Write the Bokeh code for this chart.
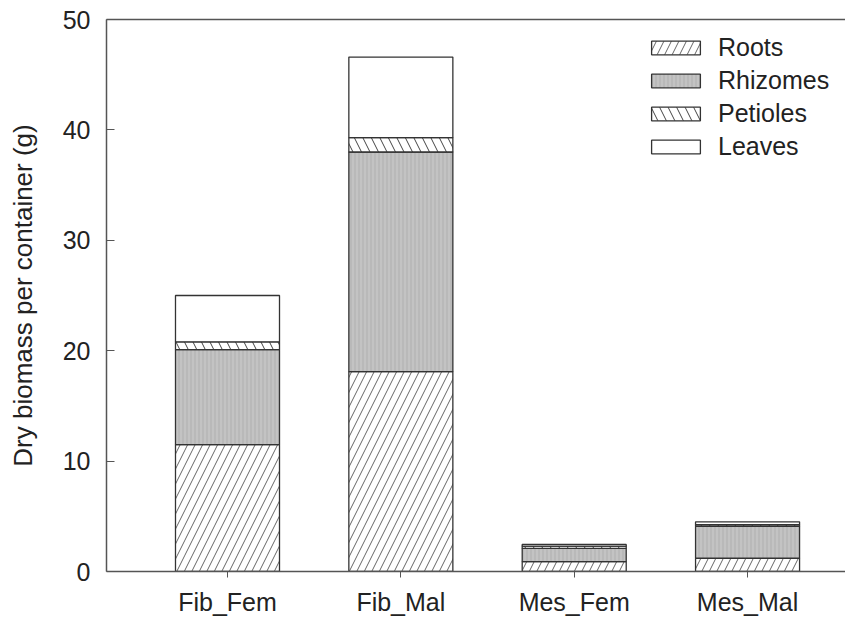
from bokeh.plotting import figure
from bokeh.models import LinearAxis, FixedTicker, Range1d, Legend, LegendItem, ColumnDataSource
from bokeh.embed import file_html
from bokeh.resources import INLINE

groups = ["Fib_Fem", "Fib_Mal", "Mes_Fem", "Mes_Mal"]
roots = [11.5, 18.1, 0.9, 1.2]
rhizomes = [8.6, 19.9, 1.2, 2.9]
petioles = [0.7, 1.3, 0.2, 0.15]
leaves = [4.2, 7.3, 0.15, 0.25]
y_ticks = [0, 10, 20, 30, 40, 50]
parts = ["Roots", "Rhizomes", "Petioles", "Leaves"]

FONT = "Liberation Sans"
AX = "#555555"
TXT = "#222222"

pos = list(range(len(groups)))
src = ColumnDataSource(dict(x=pos, Roots=roots, Rhizomes=rhizomes, Petioles=petioles, Leaves=leaves))

p = figure(width=845, height=619, output_backend="svg", toolbar_location=None,
           x_range=Range1d(-0.698, 3.565), y_range=Range1d(0, 50),
           min_border_left=106, min_border_top=19, min_border_right=0, min_border_bottom=48)
p.outline_line_color = None
p.xgrid.visible = False
p.ygrid.visible = False
p.background_fill_color = "white"
p.border_fill_color = "white"

renderers = p.vbar_stack(parts, x="x", width=0.6, source=src,
                         fill_color=["white", "#c3c3c3", "white", "white"],
                         hatch_pattern=["/", "|", "\\", " "],
                         hatch_color=["#555555", "#a5a5a5", "#444444", "#444444"],
                         hatch_scale=[15, 4, 17, 12],
                         hatch_weight=[0.9, 0.7, 1.0, 1.0],
                         line_color="#333333", line_width=1.3)

legend = Legend(items=[LegendItem(label=n, renderers=[r]) for n, r in zip(parts, renderers)],
                location=(539, 410), orientation="vertical",
                glyph_width=61, glyph_height=17, label_standoff=12, spacing=4,
                padding=0, margin=0, border_line_color=None, background_fill_alpha=0,
                label_text_font=FONT, label_text_font_size="25px", label_text_color=TXT)
p.add_layout(legend, "center")

# x axis
xa = p.xaxis[0]
xa.ticker = FixedTicker(ticks=pos)
xa.major_label_overrides = {i: g for i, g in zip(pos, groups)}
xa.minor_tick_line_color = None
xa.major_tick_in = 0
xa.major_tick_out = 6
xa.axis_line_color = AX
xa.axis_line_width = 1.5
xa.major_tick_line_color = AX
xa.major_label_text_font = FONT
xa.major_label_text_font_size = "25px"
xa.major_label_text_color = TXT
xa.major_label_standoff = 10

# y axis
ya = p.yaxis[0]
ya.ticker = FixedTicker(ticks=y_ticks)
ya.minor_tick_line_color = None
ya.major_tick_in = 8
ya.major_tick_out = 0
ya.axis_line_color = AX
ya.axis_line_width = 1.5
ya.major_tick_line_color = AX
ya.major_label_text_font = FONT
ya.major_label_text_font_size = "25px"
ya.major_label_text_color = TXT
ya.major_label_standoff = 16
ya.axis_label = "Dry biomass per container (g)"
ya.axis_label_text_font = FONT
ya.axis_label_text_font_size = "26px"
ya.axis_label_text_font_style = "normal"
ya.axis_label_text_color = TXT
ya.axis_label_standoff = 22

# top frame line
top = LinearAxis(ticker=FixedTicker(ticks=[]), major_label_text_font_size="0px",
                 major_tick_line_color=None, minor_tick_line_color=None,
                 axis_line_color=AX, axis_line_width=1.5)
p.add_layout(top, "above")

open("out.html", "w").write(file_html(p, INLINE))
